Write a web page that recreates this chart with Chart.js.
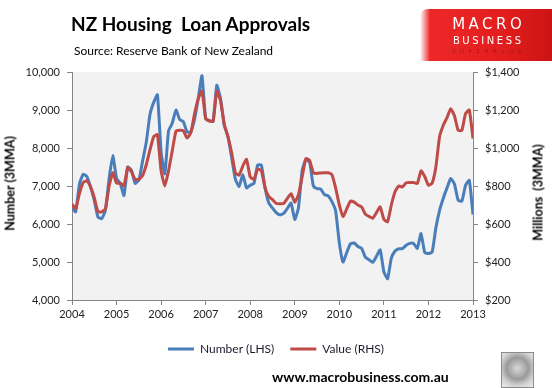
<!DOCTYPE html>
<html>
<head>
<meta charset="utf-8">
<script src="https://cdn.jsdelivr.net/npm/chart.js@4.4.1/dist/chart.umd.min.js"></script>
<style>
  html, body { margin:0; padding:0; background:#fff; }
  #wrap { position:relative; width:552px; height:388px; overflow:hidden; font-family: Lato, "Open Sans", sans-serif; }
  #c { position:absolute; left:0; top:0; }
  .abs { position:absolute; white-space:nowrap; }
  #title { left:71px; top:12px; font-size:19px; font-weight:bold; color:#000; }
  #source { left:74px; top:43px; font-size:12px; color:#000; }
  #logo { left:420px; top:9px; width:132px; height:52px;
    background: linear-gradient(90deg, rgba(255,255,255,1) 0px, rgba(238,40,40,1) 10px, #e41e1e 60%, #cc1414 100%);
    border-top-left-radius:8px; }
  #logo div { position:absolute; left:12px; width:110px; text-align:center; font-family:"DejaVu Sans", sans-serif; }
  #logo .m { top:6px; color:#fff; font-size:15px; letter-spacing:3.5px; text-indent:3.5px; font-weight:normal; }
  #logo .b { top:26px; color:#fff; font-size:10px; letter-spacing:2.6px; text-indent:2.6px; }
  #logo .s { top:39px; color:#9e1a1a; font-size:5.5px; letter-spacing:4.6px; text-indent:4.6px; }
  .ytitle { font-size:12.5px; font-weight:bold; color:#000; transform-origin:center center; }
  #ylt { left:-45px; top:176px; width:110px; text-align:center; transform:rotate(-90deg); }
  #yrt { left:488px; top:185px; width:100px; text-align:center; transform:rotate(-90deg); }
  #footer { left:272px; top:368px; font-size:14px; font-weight:bold; color:#000; }
  #wolf { left:501px; top:352px; width:31px; height:34px; border:1.5px solid #8a8a8a;
    background: radial-gradient(circle at 50% 45%, #d8d8d8 0%, #9a9a9a 45%, #cfcfcf 70%, #efefef 100%); }
</style>
</head>
<body>
<div id="wrap">
  <canvas id="c" width="552" height="388"></canvas>
  <div class="abs" id="title">NZ Housing&nbsp; Loan Approvals</div>
  <div class="abs" id="source">Source: Reserve Bank of New Zealand</div>
  <div class="abs" id="logo"><div class="m">MACRO</div><div class="b">BUSINESS</div><div class="s">SUPERBLOG</div></div>
  <div class="abs ytitle" id="ylt">Number (3MMA)</div>
  <div class="abs ytitle" id="yrt">Millions&nbsp; (3MMA)</div>
  <div class="abs" id="footer">www.macrobusiness.com.au</div>
  <div class="abs" id="wolf"></div>
</div>
<script>
// Tick labels (years) for the x axis; monthly data from Jan 2004 to Jan 2013
const years = ['2004','2005','2006','2007','2008','2009','2010','2011','2012','2013'];

// Number of housing loan approvals, 3-month moving average (LHS)
const numberLHS = [
  6420,6320,7050,7310,7250,6970,6620,6180,6140,6360,7200,7800,
  7200,7065,6750,7500,7420,7070,7150,7650,8150,8880,9200,9400,
  7900,7320,8450,8650,9000,8750,8690,8420,8430,8750,9300,9900,
  8780,8720,8700,9650,9300,8600,8300,7750,7180,6990,7300,6950,
  7020,7065,7550,7550,6950,6550,6420,6300,6240,6280,6410,6550,
  6120,6430,7420,7700,7620,7000,6930,6920,6770,6740,6590,6350,
  5500,5000,5250,5480,5500,5410,5360,5130,5060,4990,5150,5320,
  4740,4560,5100,5290,5350,5350,5440,5490,5490,5360,5750,5250,
  5225,5260,5900,6360,6680,6950,7200,7050,6630,6600,7020,7150,
  6250
];

// Value of housing loan approvals, $ millions, 3-month moving average (RHS)
const valueRHS = [
  704,682,760,818,828,795,738,664,664,680,800,870,
  815,815,800,898,875,835,835,855,912,990,1060,1070,
  880,800,880,985,1088,1093,1090,1052,1080,1180,1260,1300,
  1155,1142,1140,1300,1250,1125,1060,975,870,857,905,940,
  848,835,890,880,790,745,728,708,707,708,735,760,
  714,755,850,944,935,870,866,869,870,870,860,790,
  700,640,680,720,715,700,690,652,640,630,660,690,
  624,612,700,770,800,795,817,818,818,813,880,850,
  804,815,900,1060,1120,1160,1207,1170,1093,1093,1181,1200,
  1050
];

const seriesNames = ['Number (LHS)', 'Value (RHS)'];

const toPoints = arr => arr.map((v, i) => ({ x: i, y: v }));

const bgPlugin = {
  id: 'plotBg',
  beforeDraw(chart) {
    const { ctx, chartArea: a } = chart;
    ctx.save();
    ctx.fillStyle = '#f2f2f2';
    ctx.fillRect(a.left, a.top, a.right - a.left, a.bottom - a.top);
    ctx.restore();
  }
};

const axisGrey = '#868686';
const tickFont = { family: 'Lato, "Open Sans", sans-serif', size: 11 };

new Chart(document.getElementById('c'), {
  type: 'line',
  data: {
    datasets: [
      { label: seriesNames[0], data: toPoints(numberLHS), yAxisID: 'y',
        borderColor: '#4a7ebb', backgroundColor: '#4a7ebb', borderWidth: 3,
        pointRadius: 0, tension: 0.15, order: 1 },
      { label: seriesNames[1], data: toPoints(valueRHS), yAxisID: 'y1',
        borderColor: '#be4b48', backgroundColor: '#be4b48', borderWidth: 3,
        pointRadius: 0, tension: 0.15, order: 0 }
    ]
  },
  options: {
    responsive: false,
    animation: false,
    layout: { padding: { left: 0, right: 0, top: 72, bottom: 23 } },
    plugins: {
      tooltip: { enabled: false },
      legend: {
        position: 'bottom',
        labels: {
          usePointStyle: true, pointStyle: 'line', pointStyleWidth: 26,
          padding: 16, color: '#1a1a2e',
          font: { family: 'Lato, "Open Sans", sans-serif', size: 12 },
          sort: (a, b) => a.datasetIndex - b.datasetIndex
        }
      }
    },
    scales: {
      x: {
        type: 'linear', min: 0, max: (years.length - 1) * 12,
        afterFit: s => { s.height = 27; },
        afterBuildTicks: s => { s.ticks = years.map((y, i) => ({ value: i * 12 })); },
        ticks: { color: '#222', font: tickFont, padding: 3, maxRotation: 0, autoSkip: false,
                 callback: v => years[Math.round(v / 12)] },
        grid: { display: true, drawOnChartArea: false, drawTicks: true, tickLength: 5, color: axisGrey },
        border: { display: true, color: axisGrey, width: 1 }
      },
      y: {
        position: 'left', min: 4000, max: 10000,
        afterFit: s => { s.width = 72; },
        ticks: { stepSize: 1000, color: '#222', font: tickFont, padding: 7,
                 callback: v => v.toLocaleString('en-US') },
        grid: { display: true, drawOnChartArea: false, drawTicks: true, tickLength: 5, color: axisGrey },
        border: { display: true, color: axisGrey, width: 1 }
      },
      y1: {
        position: 'right', min: 200, max: 1400,
        afterFit: s => { s.width = 79; },
        ticks: { stepSize: 200, color: '#222', font: tickFont, padding: 7,
                 callback: v => '$' + v.toLocaleString('en-US') },
        grid: { display: true, drawOnChartArea: false, drawTicks: true, tickLength: 5, color: axisGrey },
        border: { display: true, color: axisGrey, width: 1 }
      }
    }
  },
  plugins: [bgPlugin]
});
</script>
</body>
</html>
